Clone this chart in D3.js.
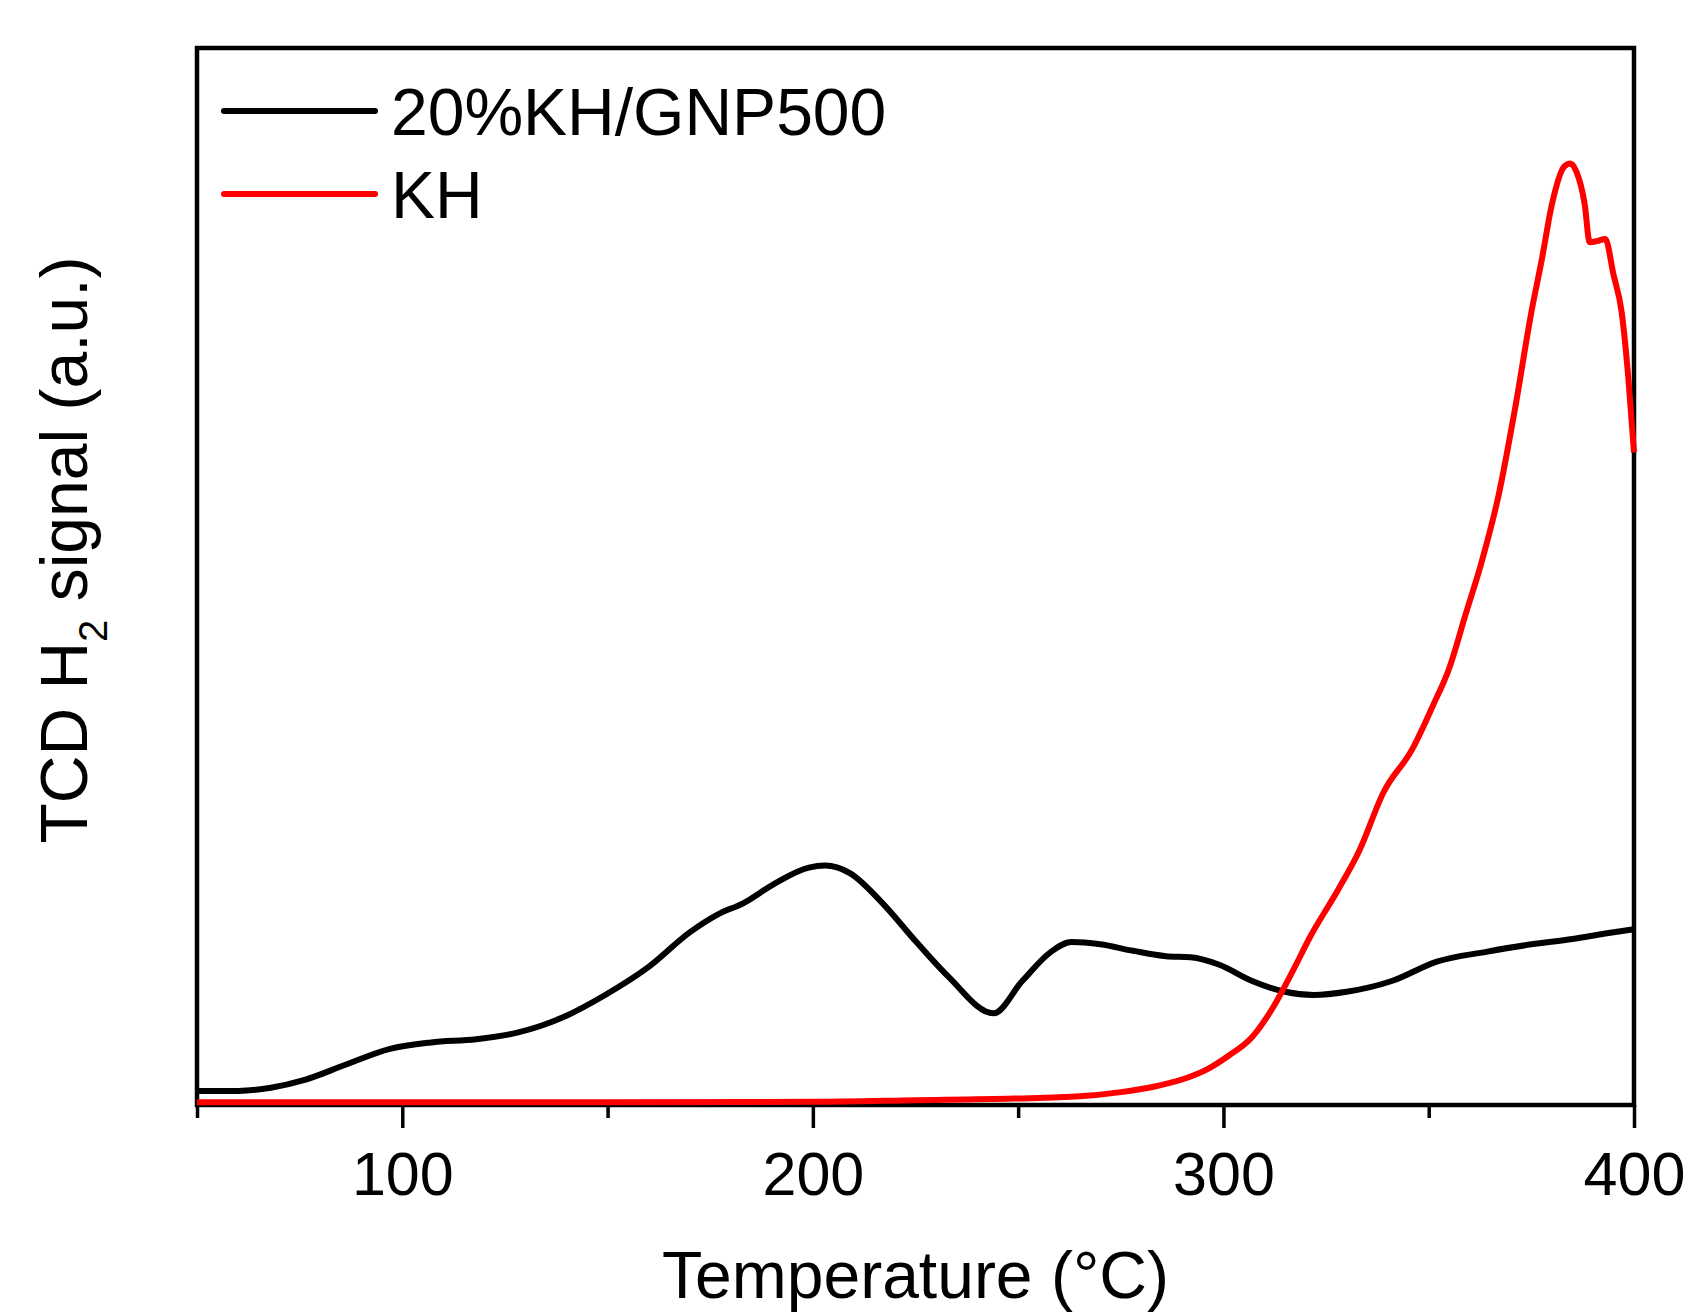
<!DOCTYPE html>
<html>
<head>
<meta charset="utf-8">
<script src="https://d3js.org/d3.v7.min.js"></script>
<style>
  body { margin: 0; background: #fff; }
  svg { display: block; font-family: "Liberation Sans", Arial, sans-serif; }
</style>
</head>
<body>
<div id="chart"></div>
<script>
// TPD curves (signal in arbitrary units, 0-100 = frame height)
var seriesNames = ["20%KH/GNP500", "KH"];
var seriesColors = ["#000000", "#ff0000"];

var gnpTemp = [50, 60, 68, 76, 86, 97, 107, 118, 128, 139, 149, 160, 170, 177, 183, 191, 199, 203,
    209, 217, 225, 233, 244, 251, 258, 263, 270, 278, 286, 292, 299, 307, 315, 322, 330, 341,
    352, 364, 375, 385, 393, 400];
var gnpSignal = [1.33, 1.33, 1.63, 2.35, 3.78, 5.31, 5.92, 6.22, 6.84, 8.27, 10.31, 13.06, 16.33,
    18.06, 19.08, 21.02, 22.45, 22.65, 21.94, 19.08, 15.51, 12.14, 8.67, 11.73, 14.49, 15.41,
    15.20, 14.59, 14.08, 13.98, 13.27, 11.73, 10.71, 10.41, 10.71, 11.73, 13.57, 14.49, 15.20,
    15.71, 16.22, 16.63];

var khTemp = [50, 100, 150, 200, 225, 249, 265, 275, 283, 291, 296, 301, 307, 312, 317, 321, 328,
    333, 339, 346, 351, 355, 359, 363, 367, 371, 375, 377.6, 380, 383, 384.5, 386, 388, 389.2,
    391, 393, 395, 397, 398.6, 400];
var khSignal = [0.25, 0.25, 0.25, 0.3, 0.45, 0.61, 0.82, 1.22, 1.73, 2.55, 3.37, 4.59, 6.43, 9.18,
    12.76, 15.82, 20.41, 23.98, 29.59, 33.67, 37.76, 41.33, 46.43, 51.53, 57.65, 65.82, 75.0,
    80.1, 85.2, 88.78, 89.08, 88.27, 85.2, 81.63, 81.73, 81.94, 78.57, 75.0, 68.88, 61.73];

var majorTicks = [100, 200, 300, 400];
var minorTicks = [50, 150, 250, 350];

var width = 1690, height = 1313;
var frame = { left: 197, right: 1634, top: 48, bottom: 1105 };

var svg = d3.select("#chart").append("svg")
    .attr("width", width)
    .attr("height", height);

var x = d3.scaleLinear().domain([50, 400]).range([frame.left, frame.right]);
var y = d3.scaleLinear().domain([0, 100]).range([frame.bottom, frame.top]);

// x axis: labelled major ticks + short minor ticks, both pointing outwards
var axisG = svg.append("g").attr("transform", "translate(0," + frame.bottom + ")");
axisG.append("g")
    .call(d3.axisBottom(x).tickValues(majorTicks).tickSize(23).tickPadding(24).tickFormat(d3.format("d")))
    .call(function (g) {
        g.select(".domain").remove();
        g.selectAll("line").attr("stroke", "#000").attr("stroke-width", 3.5);
        g.selectAll("text").attr("fill", "#000").style("font-size", "61px")
            .style("font-family", "'Liberation Sans', Arial, sans-serif");
    });
axisG.append("g")
    .call(d3.axisBottom(x).tickValues(minorTicks).tickSize(13).tickFormat(""))
    .call(function (g) {
        g.select(".domain").remove();
        g.selectAll("line").attr("stroke", "#000").attr("stroke-width", 3.5);
    });

// curves
var line = d3.line()
    .x(function (d) { return x(d[0]); })
    .y(function (d) { return y(d[1]); })
    .curve(d3.curveMonotoneX);

var gnpData = d3.zip(gnpTemp, gnpSignal);
var khData = d3.zip(khTemp, khSignal);

// plot frame (drawn under the curves so the red trace sits on the bottom edge)
svg.append("rect")
    .attr("x", frame.left)
    .attr("y", frame.top)
    .attr("width", frame.right - frame.left)
    .attr("height", frame.bottom - frame.top)
    .attr("fill", "none")
    .attr("stroke", "#000")
    .attr("stroke-width", 4.5);

[gnpData, khData].forEach(function (data, i) {
    svg.append("path")
        .datum(data)
        .attr("d", line)
        .attr("fill", "none")
        .attr("stroke", seriesColors[i])
        .attr("stroke-width", 6)
        .attr("stroke-linejoin", "round");
});

// legend
var legend = svg.append("g");
seriesNames.forEach(function (name, i) {
    var ly = 111 + i * 83;
    legend.append("line")
        .attr("x1", 224).attr("x2", 375)
        .attr("y1", ly).attr("y2", ly)
        .attr("stroke", seriesColors[i])
        .attr("stroke-width", 6)
        .attr("stroke-linecap", "round");
    legend.append("text")
        .attr("x", 391)
        .attr("y", ly + 24)
        .style("font-size", "66px")
        .attr("fill", "#000")
        .text(name);
});

// axis titles
svg.append("text")
    .attr("x", (frame.left + frame.right) / 2)
    .attr("y", 1298)
    .attr("text-anchor", "middle")
    .style("font-size", "66px")
    .text("Temperature (°C)");

var yTitle = svg.append("text")
    .attr("transform", "translate(87,550) rotate(-90)")
    .attr("text-anchor", "middle")
    .style("font-size", "66px");
yTitle.append("tspan").text("TCD H");
yTitle.append("tspan").attr("dy", 20).style("font-size", "40px").text("2");
yTitle.append("tspan").attr("dy", -20).text(" signal (a.u.)");
</script>
</body>
</html>
